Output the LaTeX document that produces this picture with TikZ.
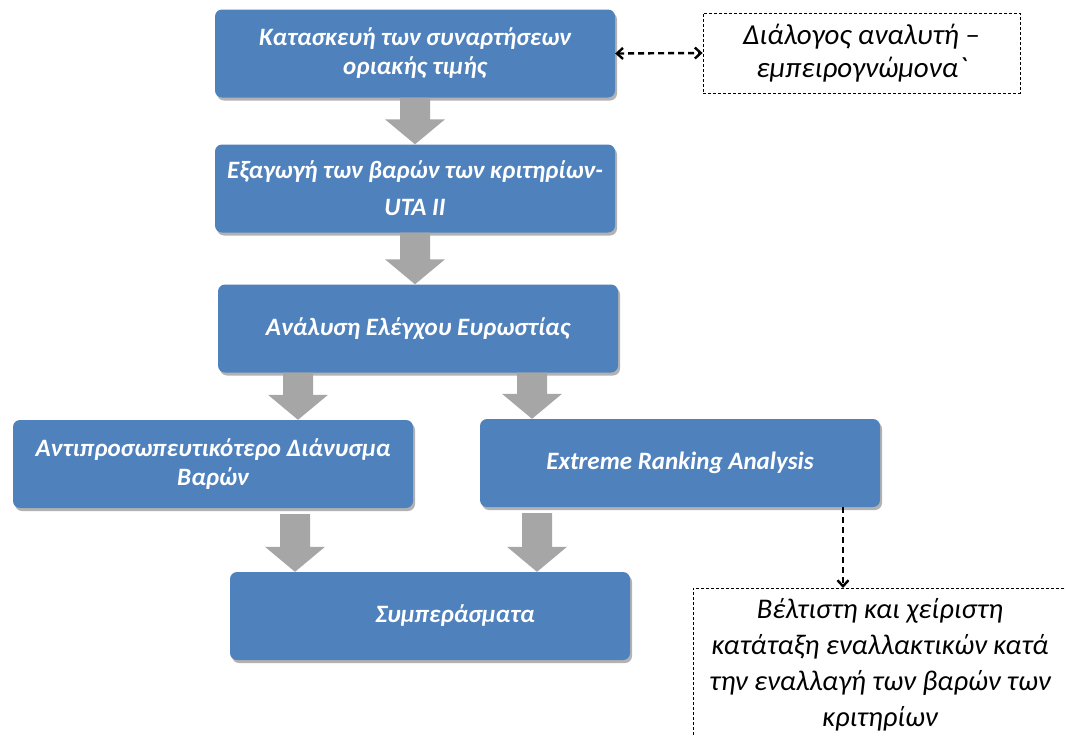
\documentclass[tikz,border=0pt]{standalone}
\usepackage{fontspec}
\setmainfont{Carlito}
\usetikzlibrary{shadows,arrows.meta,calc}
\definecolor{boxblue}{HTML}{4F81BD}
\definecolor{arrgray}{HTML}{A6A6A6}
\tikzset{
  bluebox/.style={rounded corners=7pt, fill=boxblue, minimum width=400pt, minimum height=88pt,
    inner sep=0pt, text=white, align=center,
    font=\fontsize{25}{29}\selectfont\bfseries\itshape,
    drop shadow={shadow xshift=2pt, shadow yshift=-3pt, opacity=0.3, fill=black}},
  dashbox/.style={draw, densely dashed, line width=0.8pt, inner sep=0pt, align=center},
  dasharrow/.style={line width=2.4pt, dash pattern=on 6pt off 4pt},
  barb/.tip={Straight Barb[length=6pt,width=11pt]},
}
\newcommand\blockarrow[4]{% #1 x, #2 from node, #3 to node, #4 top gap
  \coordinate (ba-top) at ($(#1,0 |- #2.south)+(0,#4)$);
  \coordinate (ba-tip) at (#1,0 |- #3.north);
  \fill[arrgray] ($(ba-top)+(-15,0)$) -- ($(ba-top)+(15,0)$) -- ($(ba-tip)+(15,-25)$)
    -- ($(ba-tip)+(30,-25)$) -- (ba-tip) -- ($(ba-tip)+(-30,-25)$) -- ($(ba-tip)+(-15,-25)$) -- cycle;
}
\begin{document}
\begin{tikzpicture}[x=1pt,y=-1pt]
\useasboundingbox (0,0) rectangle (1065,736);
\clip (0,0) rectangle (1065,736);

\node[bluebox] (b1) at (415,53.5) {Κατασκευή των συναρτήσεων\\οριακής τιμής};
\node[bluebox] (b2) at (415,188.5) {Εξαγωγή των βαρών των κριτηρίων-\\[8pt]UTA II};
\node[bluebox] (b3) at (418,328.5) {Ανάλυση Ελέγχου Ευρωστίας};
\node[bluebox] (b4) at (213,464) {Αντιπροσωπευτικότερο Διάνυσμα\\Βαρών};
\node[bluebox] (b5) at (680,463) {Extreme Ranking Analysis};
\node[bluebox] (b6) at (430,616) {\hspace*{50pt}Συμπεράσματα};

\node[dashbox, minimum width=317pt, minimum height=80pt, font=\fontsize{29}{33}\selectfont\itshape] (d1) at (861.5,53)
  {Διάλογος αναλυτή –\\εμπειρογνώμονα{\addfontfeature{Ligatures=TeXOff}`}};
\node[dashbox, minimum width=374pt, inner ysep=10pt, anchor=north, font=\fontsize{28.5}{36}\selectfont\itshape] (d2) at (880,588)
  {Βέλτιστη και χείριστη\\κατάταξη εναλλακτικών κατά\\την εναλλαγή των βαρών των\\κριτηρίων\rule[-30pt]{0pt}{0pt}};

\blockarrow{415}{b1}{b2}{0}
\blockarrow{415}{b2}{b3}{0}
\blockarrow{298}{b3}{b4}{0}
\blockarrow{532}{b3}{b5}{0}
\blockarrow{295}{b4}{b6}{6}
\blockarrow{537}{b5}{b6}{6}

\draw[dasharrow, barb-barb] (b1.east) -- (d1.west);
\coordinate (dn) at ($(b5.south)+(163,0)$);
\draw[dasharrow, -barb] (dn) -- (dn |- d2.north);
\end{tikzpicture}
\end{document}
